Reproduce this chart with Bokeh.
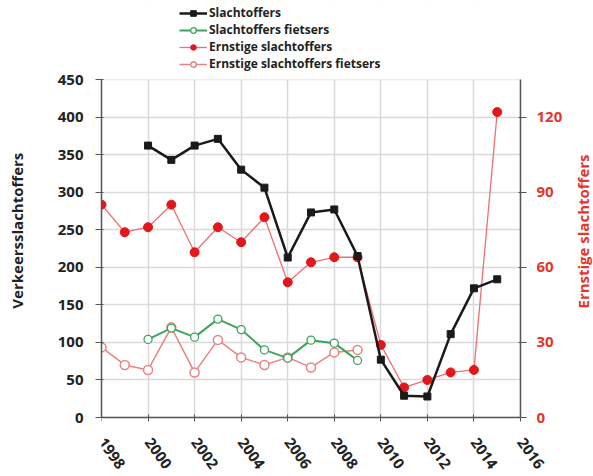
import math
from bokeh.plotting import figure
from bokeh.models import (Range1d, LinearAxis, FixedTicker, Legend, LegendItem,
                          BoxAnnotation, Label)
from bokeh.embed import file_html
from bokeh.resources import INLINE

# ---- data ----
years_slacht = [2000, 2001, 2002, 2003, 2004, 2005, 2006, 2007, 2008, 2009,
                2010, 2011, 2012, 2013, 2014, 2015]
slachtoffers = [362, 343, 362, 371, 330, 306, 213, 273, 277, 215,
                77, 29, 28, 111, 172, 184]

years_fiets = [2000, 2001, 2002, 2003, 2004, 2005, 2006, 2007, 2008, 2009]
slachtoffers_fietsers = [104, 119, 107, 131, 117, 90, 79, 103, 99, 76]

years_ernstig = [1998, 1999, 2000, 2001, 2002, 2003, 2004, 2005, 2006, 2007,
                 2008, 2009, 2010, 2011, 2012, 2013, 2014, 2015]
ernstige = [85, 74, 76, 85, 66, 76, 70, 80, 54, 62,
            64, 64, 29, 12, 15, 18, 19, 122]

years_ernstig_fiets = [1998, 1999, 2000, 2001, 2002, 2003, 2004, 2005, 2006,
                       2007, 2008, 2009]
ernstige_fietsers = [28, 21, 19, 36, 18, 31, 24, 21, 24, 20, 26, 27]

left_ticks = [0, 50, 100, 150, 200, 250, 300, 350, 400, 450]
right_ticks = [0, 30, 60, 90, 120]
x_ticks = [1998, 2000, 2002, 2004, 2006, 2008, 2010, 2012, 2014, 2016]
X_MIN, X_MAX = 1998, 2016
LEFT_MAX = 450
RIGHT_MAX = 135

FONT = "Open Sans"
BLACK = "#1a1a1a"
GREEN = "#3fa35c"
RED = "#e3161b"
RED_TEXT = "#e2372a"
PINK = "#e98383"
AXIS = "#555555"
NB = "\u00a0"

# layout (pixels)
W, H = 593, 474
BL, BT = 101, 2
ZERO_Y = 417    # pixel row of value 0
AXIS_PX = 338   # pixel height of the 0..450 axis
XPX = 419       # pixel width of 1998..2016
frame_w = W - BL
px_per_year = XPX / (X_MAX - X_MIN)
px_per_unit = AXIS_PX / LEFT_MAX
ytop = (ZERO_Y - BT) / px_per_unit
ybot = -(H - ZERO_Y) / px_per_unit
xend = X_MIN + frame_w / px_per_year
ratio = RIGHT_MAX / LEFT_MAX

p = figure(width=W, height=H, output_backend="svg", toolbar_location=None,
           x_range=Range1d(X_MIN, xend), y_range=Range1d(ybot, ytop),
           min_border_left=BL, min_border_right=0, min_border_top=BT,
           min_border_bottom=0)
p.outline_line_color = None
p.extra_y_ranges = {"right": Range1d(ybot * ratio, ytop * ratio)}

# grid
p.xgrid.ticker = FixedTicker(ticks=x_ticks)
p.ygrid.ticker = FixedTicker(ticks=left_ticks)
for g in (p.xgrid, p.ygrid):
    g.grid_line_color = "#d9d9d9"
    g.grid_line_width = 1.5

# white covers outside the plotting rectangle
for kw in (dict(bottom=LEFT_MAX), dict(left=X_MAX), dict(top=0)):
    p.add_layout(BoxAnnotation(fill_color="white", fill_alpha=1,
                               line_color=None, level="underlay", **kw))

# x axis, fixed at value 0
xa = p.xaxis[0]
xa.fixed_location = 0
xa.ticker = FixedTicker(ticks=x_ticks)
xa.bounds = (X_MIN, X_MAX)
xa.major_label_orientation = -0.95
xa.major_label_text_font = FONT
xa.major_label_text_font_style = "bold"
xa.major_label_text_font_size = "15px"
xa.major_label_text_color = "#222222"
xa.axis_line_color = AXIS
xa.axis_line_width = 1.5
xa.major_tick_line_color = AXIS
xa.major_tick_in = 3
xa.major_tick_out = 4
xa.minor_tick_line_color = None
xa.major_label_standoff = 18

ya = p.yaxis[0]
ya.ticker = FixedTicker(ticks=left_ticks)
ya.bounds = (0, LEFT_MAX)
ya.major_label_text_font = FONT
ya.major_label_text_font_style = "bold"
ya.major_label_text_font_size = "15px"
ya.major_label_text_color = "#222222"
ya.axis_line_color = AXIS
ya.axis_line_width = 1.5
ya.major_tick_line_color = AXIS
ya.major_tick_in = 2
ya.major_tick_out = 6
ya.minor_tick_line_color = None
ya.major_label_standoff = 12
ya.axis_label = NB * 4 + "Verkeersslachtoffers"
ya.axis_label_text_font = FONT
ya.axis_label_text_font_style = "bold"
ya.axis_label_text_font_size = "15px"
ya.axis_label_text_color = "#222222"
ya.axis_label_standoff = 28

ra = LinearAxis(y_range_name="right", ticker=FixedTicker(ticks=right_ticks),
                fixed_location=X_MAX)
ra.bounds = (0, RIGHT_MAX)
ra.major_label_text_font = FONT
ra.major_label_text_font_style = "bold"
ra.major_label_text_font_size = "15px"
ra.major_label_text_color = RED_TEXT
ra.axis_line_color = AXIS
ra.axis_line_width = 1.5
ra.major_tick_line_color = AXIS
ra.major_tick_in = 2
ra.major_tick_out = 6
ra.minor_tick_line_color = None
ra.major_label_standoff = 10
p.add_layout(ra, "right")

# right axis title, reading bottom to top
p.add_layout(Label(x=X_MAX + (582 - (BL + XPX)) / px_per_year,
                   y=(ZERO_Y - 231) / px_per_unit,
                   text="Ernstige slachtoffers", angle=math.pi / 2,
                   text_align="center", text_baseline="middle",
                   text_font=FONT, text_font_style="bold",
                   text_font_size="15px", text_color=RED_TEXT))

# series
l4 = p.line(years_ernstig_fiets, ernstige_fietsers, y_range_name="right",
            line_color=PINK, line_width=1.5)
m4 = p.scatter(years_ernstig_fiets, ernstige_fietsers, y_range_name="right",
               marker="circle", size=9, fill_color="white", line_color=PINK,
               line_width=1.5)
l2 = p.line(years_fiets, slachtoffers_fietsers, line_color=GREEN, line_width=2)
m2 = p.scatter(years_fiets, slachtoffers_fietsers, marker="circle", size=8,
               fill_color="white", line_color=GREEN, line_width=1.3)
l3 = p.line(years_ernstig, ernstige, y_range_name="right",
            line_color="#ee7070", line_width=1.3)
m3 = p.scatter(years_ernstig, ernstige, y_range_name="right", marker="circle",
               size=9, fill_color=RED, line_color=RED)
l1 = p.line(years_slacht, slachtoffers, line_color=BLACK, line_width=2.5)
m1 = p.scatter(years_slacht, slachtoffers, marker="square", size=7,
               fill_color=BLACK, line_color=BLACK)

legend = Legend(items=[
    LegendItem(label="Slachtoffers", renderers=[l1, m1]),
    LegendItem(label="Slachtoffers fietsers", renderers=[l2, m2]),
    LegendItem(label="Ernstige slachtoffers", renderers=[l3, m3]),
    LegendItem(label="Ernstige slachtoffers fietsers", renderers=[l4, m4]),
], location=(78, H - 72), orientation="vertical")
legend.label_text_font = FONT
legend.label_text_font_style = "bold"
legend.label_text_font_size = "12px"
legend.label_text_color = "#222222"
legend.glyph_width = 28
legend.glyph_height = 14
legend.label_height = 14
legend.spacing = 0
legend.padding = 0
legend.margin = 0
legend.label_standoff = 2
legend.border_line_color = None
legend.background_fill_alpha = 0
p.add_layout(legend, "center")

open("out.html", "w").write(file_html(p, INLINE))
